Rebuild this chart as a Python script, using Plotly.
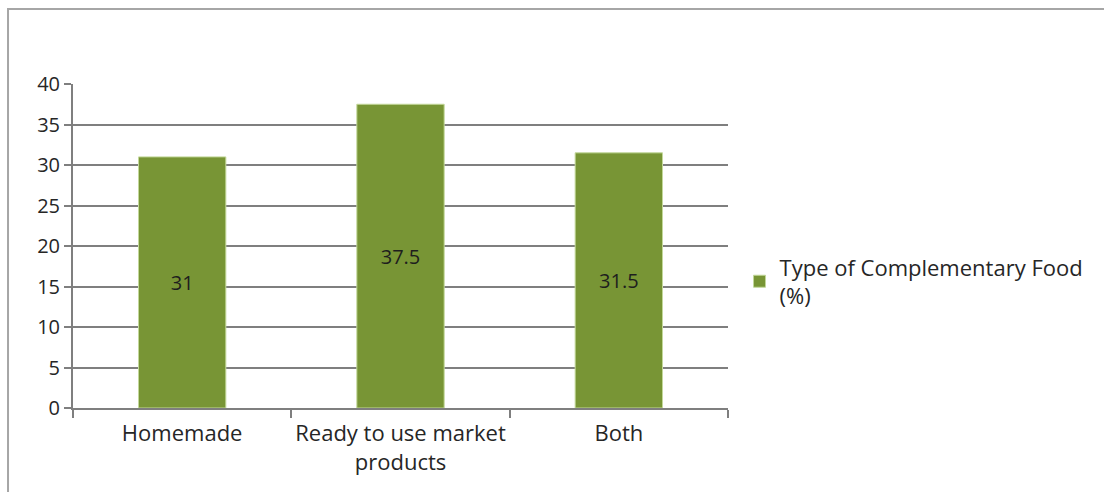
import plotly.graph_objects as go

categories = ["Homemade", "Ready to use market<br>products", "Both"]
values = [31, 37.5, 31.5]
series_name = "Type of Complementary Food<br>(%)"
y_ticks = [0, 5, 10, 15, 20, 25, 30, 35, 40]

FONT = "'Open Sans', sans-serif"
TXT = "#262626"

fig = go.Figure()
fig.add_trace(go.Bar(
    x=categories,
    y=values,
    name=series_name,
    text=[str(v) for v in values],
    textposition="inside",
    insidetextanchor="middle",
    textfont=dict(family=FONT, size=20, color="#1e1e1e"),
    marker=dict(color="#789535", line=dict(color="#c3d89a", width=1)),
    showlegend=True,
))

fig.update_layout(
    width=1104,
    height=492,
    margin=dict(l=73, r=376, t=84, b=84),
    paper_bgcolor="white",
    plot_bgcolor="white",
    bargap=0.6,
    font=dict(family=FONT, size=20, color=TXT),
    uniformtext=dict(minsize=10, mode="show"),
    xaxis=dict(
        showgrid=False,
        showline=True,
        linecolor="#7f7f7f",
        linewidth=2,
        ticks="outside",
        tickson="boundaries",
        ticklen=8,
        tickwidth=2,
        tickcolor="#7f7f7f",
        tickangle=0,
        automargin=False,
        ticklabelstandoff=5,
        tickfont=dict(family=FONT, size=22, color=TXT),
    ),
    yaxis=dict(
        range=[0, 40],
        tickvals=y_ticks,
        showgrid=True,
        gridcolor="#7f7f7f",
        gridwidth=2,
        showline=True,
        linecolor="#7f7f7f",
        linewidth=2,
        ticks="outside",
        ticklen=7,
        tickwidth=2,
        tickcolor="#7f7f7f",
        zeroline=False,
        automargin=False,
        tickfont=dict(family=FONT, size=20, color=TXT),
    ),
    legend=dict(
        x=1.0176,
        y=0.39,
        xanchor="left",
        yanchor="middle",
        font=dict(family=FONT, size=22, color=TXT),
        itemwidth=30,
    ),
    shapes=[dict(
        type="rect", xref="paper", yref="paper",
        x0=-0.0992, x1=1.6, y0=-0.4, y1=1.2315,
        line=dict(color="#a6a6a6", width=2),
        fillcolor="rgba(0,0,0,0)",
        layer="below",
    )],
)

fig.write_html("out.html")
